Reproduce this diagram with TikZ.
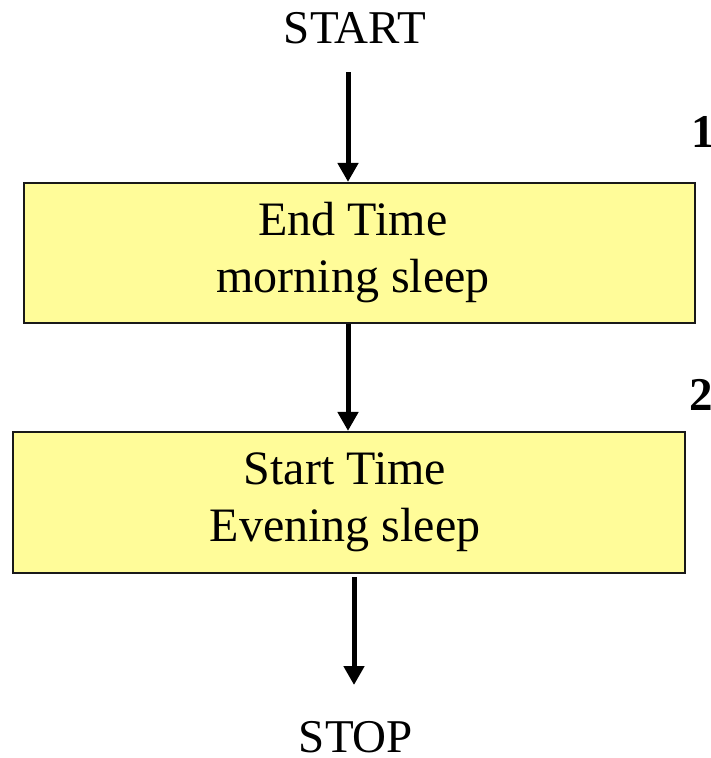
\documentclass[tikz,border=0pt]{standalone}
\usepackage{fontspec}
\setmainfont{Liberation Serif}
\usetikzlibrary{arrows.meta}
\definecolor{boxfill}{HTML}{FFFC99}
\begin{document}
\begin{tikzpicture}[x=1pt,y=1pt,
  label/.style={font=\fontsize{47}{56}\selectfont, inner sep=0pt},
  stepbox/.style={draw=black!90, line width=2.2pt, fill=boxfill, inner sep=0pt},
  steptext/.style={align=center, font=\fontsize{48}{57}\selectfont, inner sep=0pt, anchor=base},
  flow/.style={line width=5pt, -{Triangle[width=20pt,length=19pt]}},
  num/.style={font=\fontsize{47}{56}\selectfont\bfseries, inner sep=0pt, anchor=base west}]
  \useasboundingbox (0,0) rectangle (710,-758);
  \clip (0,0) rectangle (710,-758);

  % terminals
  \node[label, anchor=base] (start) at (355,-43) {START};
  \node[label, anchor=base] (stop) at (356,-752) {STOP};

  % process boxes (text anchored on the baseline of its second line)
  \node[stepbox, minimum width=671, minimum height=140] (box1) at (359.5,-253) {};
  \node[steptext] (t1) at (353,-292) {End Time\\morning sleep};
  \node[stepbox, minimum width=672, minimum height=141] (box2) at (349,-502.5) {};
  \node[steptext] (t2) at (345,-541.5) {Start Time\\Evening sleep};

  % step numbers
  \node[num] (n1) at (691,-147) {1};
  \node[num] (n2) at (689,-410) {2};

  % connectors
  \coordinate (a1) at (348,-72);
  \coordinate (a3) at (354,-577);
  \coordinate (a3end) at (354,-685);
  \draw[flow] (a1) -- (a1 |- box1.north);
  \draw[flow] (box1.south -| a1) -- (box2.north -| a1);
  \draw[flow] (a3) -- (a3end);
\end{tikzpicture}
\end{document}
